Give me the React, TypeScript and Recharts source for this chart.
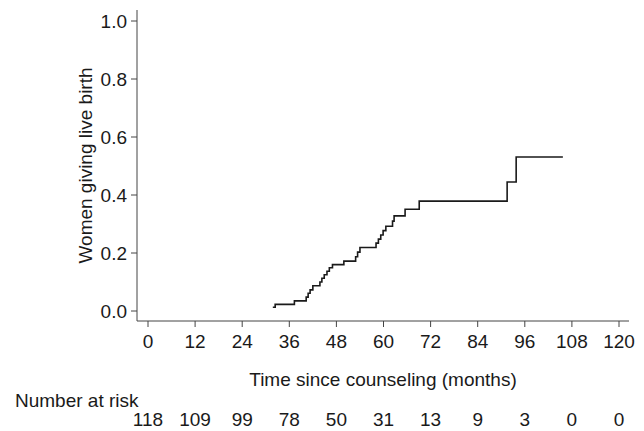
import React from "react";
import { LineChart, Line, XAxis, YAxis, Label } from "recharts";

const eventTimes = [31.8, 32.4, 37.3, 40.3, 40.8, 41.3, 42.0, 43.8, 44.3, 44.9, 45.6, 46.2, 47.0, 49.9, 52.9, 53.4, 54.0, 58.1, 58.7, 59.3, 59.9, 60.6, 62.3, 62.7, 65.5, 69.1, 91.5, 93.8, 105.7];
const cumulative = [0.013, 0.023, 0.035, 0.048, 0.061, 0.073, 0.087, 0.1, 0.113, 0.125, 0.137, 0.149, 0.16, 0.172, 0.187, 0.203, 0.219, 0.234, 0.248, 0.262, 0.277, 0.292, 0.31, 0.328, 0.351, 0.379, 0.445, 0.531, 0.531];
const xTicks = [0, 12, 24, 36, 48, 60, 72, 84, 96, 108, 120];
const numberAtRisk = [118, 109, 99, 78, 50, 31, 13, 9, 3, 0, 0];
const yTicks = [0, 0.2, 0.4, 0.6, 0.8, 1.0];

const data = eventTimes.map((t, i) => ({ t, v: cumulative[i] }));

const FONT = "'Liberation Sans', Arial, Helvetica, sans-serif";
const FS = 19;
const TXT = "#1a1a1a";

const XTick = (props: any) => {
  const { x, y, payload } = props;
  const idx = xTicks.indexOf(payload.value);
  return (
    <g>
      <text x={x} y={y} dy="0.71em" textAnchor="middle" fill={TXT} fontSize={FS} fontFamily={FONT}>
        {payload.value}
      </text>
      <text x={x} y={y + 78} dy="0.71em" textAnchor="middle" fill={TXT} fontSize={FS} fontFamily={FONT}>
        {idx >= 0 ? numberAtRisk[idx] : ""}
      </text>
      {payload.value === 0 && (
        <text x={15} y={y + 59} dy="0.71em" textAnchor="start" fill={TXT} fontSize={FS} fontFamily={FONT}>
          Number at risk
        </text>
      )}
    </g>
  );
};

const YLabel = (props: any) => {
  const vb = props.viewBox || { x: 0, y: 10, width: 137, height: 311 };
  const cx = vb.x + 85;
  const cy = vb.y + vb.height / 2;
  return (
    <text
      x={cx}
      y={cy}
      transform={`rotate(-90, ${cx}, ${cy})`}
      textAnchor="middle"
      dominantBaseline="central"
      fill={TXT}
      fontSize={FS}
      fontFamily={FONT}
    >
      Women giving live birth
    </text>
  );
};

export default function App() {
  return (
    <div style={{ position: "absolute", left: 0, top: 0, background: "#fff" }}>
      <LineChart width={644} height={431} data={data} margin={{ top: 10, right: 15, left: 0, bottom: 0 }}>
        <XAxis
          dataKey="t"
          type="number"
          domain={[0, 120]}
          ticks={xTicks}
          interval={0}
          padding={{ left: 11, right: 10 }}
          height={110}
          tickSize={6}
          tickMargin={8}
          stroke="#444"
          tick={<XTick />}
          allowDataOverflow
        >
          <Label
            value="Time since counseling (months)"
            position="insideBottom"
            offset={45}
            fill={TXT}
            fontSize={FS}
            fontFamily={FONT}
          />
        </XAxis>
        <YAxis
          type="number"
          domain={[0, 1]}
          ticks={yTicks}
          interval={0}
          width={137}
          padding={{ top: 11, bottom: 10 }}
          tickSize={6}
          tickMargin={4}
          stroke="#444"
          tickFormatter={(v: number) => v.toFixed(1)}
          tick={{ fill: TXT, fontSize: FS, fontFamily: FONT }}
          label={<YLabel />}
        />
        <Line
          dataKey="v"
          type="stepAfter"
          stroke="#1a1a1a"
          strokeWidth={1.6}
          dot={false}
          isAnimationActive={false}
        />
      </LineChart>
    </div>
  );
}
